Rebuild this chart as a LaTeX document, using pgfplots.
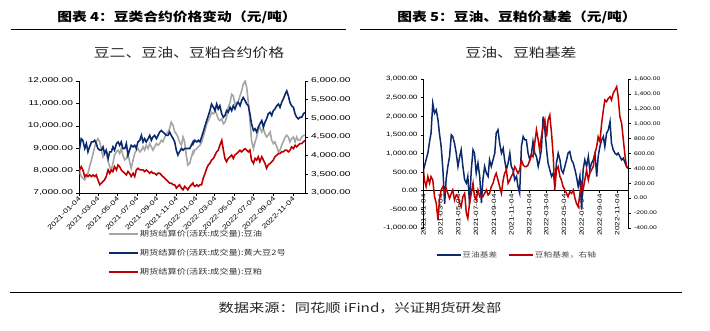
\documentclass[border=0pt]{standalone}
\usepackage{fontspec}
\usepackage{pgfplots}
\usepackage{pgfplotstable}
\pgfplotsset{compat=1.18}
\setmainfont{Liberation Sans}
\newfontfamily\tickA{Liberation Sans}[FakeStretch=1.45]
\newfontfamily\tickB{Liberation Sans}[FakeStretch=1.3]
\newfontfamily\cjk{Noto Sans CJK SC}[FakeStretch=1.25]
\newfontfamily\cjkt{Noto Sans CJK SC}[FakeStretch=1.2]
\definecolor{cgray}{HTML}{A6A6A6}
\definecolor{cnavy}{HTML}{0B2A6E}
\definecolor{cred}{HTML}{C00000}

\pgfplotstableread{
day oil bean meal
0 8000 4150 3529
2 7956 4191 3618
7 7735 4456 3706
12 7662 4412 3618
18 7588 4191 3441
23 7735 4323 3485
28 7882 4103 3441
33 8176 4235 3485
39 8471 4368 3441
44 8765 4368 3485
49 9059 4412 3441
54 9279 4323 3485
59 9426 4191 3353
65 9279 4147 3221
70 8912 4147 3265
75 8618 4235 3309
80 8765 4059 3353
85 8838 4147 3441
91 8397 3926 3618
96 8176 4103 3529
101 8029 4103 3618
106 8324 4235 3574
111 8691 4147 3706
117 8838 4323 3618
122 8912 4368 3750
127 8765 4279 3706
132 8985 4368 3618
137 8691 4191 3574
143 8471 4191 3529
148 8544 4323 3485
153 8765 4015 3574
158 8397 4147 3529
163 8103 4279 3441
169 8471 4235 3529
174 8765 4279 3441
179 8912 4191 3618
184 8985 4368 3662
190 8838 4412 3618
195 8912 4544 3618
200 9059 4368 3618
205 8912 4456 3574
210 9132 4368 3618
216 8985 4456 3574
221 9206 4544 3529
226 9059 4412 3574
231 8912 4500 3529
236 9059 4544 3529
242 9206 4456 3485
247 9132 4544 3529
252 9206 4632 3529
257 9353 4676 3485
262 9279 4632 3441
268 9500 4588 3397
273 9647 4544 3353
278 9721 4544 3309
283 9868 4632 3265
288 10162 4544 3265
294 10015 4456 3221
299 9721 4368 3221
304 9647 4147 3132
309 9500 4015 3176
314 9279 4103 3221
320 9132 4191 3132
325 9500 4147 3088
330 9279 4191 3176
335 8691 4191 3132
340 8250 4191 3088
346 8324 4191 3176
351 8618 4279 3221
356 8838 4368 3265
357 8765 4323 3221
362 8912 4412 3176
368 8985 4368 3221
373 9059 4412 3176
378 9132 4368 3221
383 9279 4500 3221
388 9500 4632 3397
394 9794 4809 3529
399 10088 4941 3662
404 10235 5074 3750
409 10382 5206 3794
414 10603 5382 3882
420 10529 5294 3926
425 10676 5206 4015
430 10529 5382 4103
435 10309 5250 4147
440 10235 5338 4279
446 10309 5118 4412
451 10088 5029 4147
456 10162 5074 3926
461 10382 5206 3838
466 10824 5162 3926
472 11044 5294 3971
477 11412 5206 4015
482 11338 5338 3926
487 10971 5250 4015
493 11044 5382 4059
498 11118 5426 4103
503 11338 5338 4147
508 11559 5471 4103
513 11853 5559 4147
519 12000 5471 4191
524 11706 5382 4147
529 11044 5338 4103
534 10235 5118 4147
539 9353 4853 3882
545 8985 4676 3794
550 9279 4721 3926
555 9500 4632 3882
560 9794 4765 3971
565 9941 4853 3838
571 9721 4941 3971
576 9868 4765 3882
581 9647 4897 3794
586 9500 4985 3662
591 9574 5118 3750
597 9721 5162 3794
602 9353 5074 3838
607 9206 5206 3882
612 9279 5250 3971
618 9059 5338 4015
623 8838 5382 4059
628 8912 5294 4059
633 9132 5426 4103
638 9279 5515 4103
644 9500 5647 4147
649 9574 5735 4147
654 9500 5603 4103
659 9279 5426 4147
664 9426 5338 4235
670 9500 5294 4191
675 9279 5118 4279
680 9500 5029 4235
685 9353 4985 4279
690 9353 5029 4324
696 9500 5029 4324
701 9574 5118 4368
706 9574 5162 4412
}\leftdata

\pgfplotstableread{
day soy meal
0 562 379
3 651 244
9 830 155
15 1009 289
21 1321 200
26 1544 289
32 2348 244
38 2080 21
44 2170 -69
50 1902 -293
55 1544 -24
61 1187 110
67 562 155
73 -350 88
78 294 133
84 651 65
90 919 -2
96 1500 65
101 1455 110
107 1277 -24
113 1009 43
119 651 21
125 919 -69
130 1098 -114
136 651 21
142 294 65
148 205 -203
153 384 -270
159 -350 -69
165 562 65
171 1098 200
176 1009 21
182 473 -24
188 741 110
194 384 21
200 -330 43
205 294 21
211 651 65
217 473 110
223 384 43
228 830 65
234 651 155
240 830 200
246 1009 289
251 1544 334
257 1634 244
263 1277 155
269 1009 65
275 1143 244
280 830 334
286 562 379
292 741 200
298 1009 244
303 651 289
309 562 334
315 294 423
321 384 379
326 116 334
332 -63 379
338 1187 513
344 1455 446
350 1366 423
355 1366 423
361 1009 446
367 830 513
373 1009 580
378 1321 558
384 1009 737
390 919 916
396 651 781
401 830 647
407 1098 826
413 1991 960
419 1634 1050
425 1098 826
430 741 1050
436 562 1117
442 384 871
448 473 558
453 205 110
459 741 379
465 1009 423
471 830 289
476 562 244
482 473 155
488 651 110
494 830 65
499 1009 21
505 1053 88
511 830 65
517 741 110
523 562 -2
528 384 -69
534 116 -114
540 384 65
546 -509 200
551 562 110
557 830 244
563 651 379
569 919 244
574 562 334
580 741 379
586 830 423
592 1009 602
598 384 692
603 919 826
609 1187 760
615 1366 1005
621 1455 1184
626 1187 1318
632 1544 1296
638 1634 1341
644 1857 1363
649 1277 1318
655 1098 1408
661 1009 1452
667 964 1497
672 1009 1363
678 919 1094
684 830 1005
690 875 781
696 741 558
701 651 423
706 607 401
}\rightdata

\pgfplotsset{
  numfmt/.style={
    /pgf/number format/fixed,
    /pgf/number format/fixed zerofill,
    /pgf/number format/precision=2,
    /pgf/number format/1000 sep={,},
    /pgf/number format/assume math mode=true},
  baseax/.style={
    anchor=south west, scale only axis, clip=true,
    xmin=0, xmax=706,
    tick align=outside, major tick length=2.5pt,
    tick style={black, line width=0.6pt},
    axis line style={black, line width=0.8pt},
    scaled y ticks=false},
  datex/.style={
    xtick={0,59,120,181,243,304,365,424,485,546,608,669},
    xticklabels={2021-01-04,2021-03-04,2021-05-04,2021-07-04,2021-09-04,2021-11-04,2022-01-04,2022-03-04,2022-05-04,2022-07-04,2022-09-04,2022-11-04}},
}

\begin{document}
\begin{tikzpicture}
\path (0pt,0pt) rectangle (710pt,330pt);
% headers
\node[font=\cjkt\bfseries\fontsize{12.3}{14}\selectfont] at (177pt,313pt) {图表 4：豆类合约价格变动（元/吨）};
\draw[line width=0.8pt] (11pt,301pt) -- (346pt,301pt);
\node[font=\cjk\fontsize{12.7}{14}\selectfont, text=black!85] at (189pt,277pt) {豆二、豆油、豆粕合约价格};
\node[font=\cjkt\bfseries\fontsize{12.3}{14}\selectfont] at (517pt,313pt) {图表 5：豆油、豆粕价基差（元/吨）};
\draw[line width=0.8pt] (360pt,301pt) -- (677pt,301pt);
\node[font=\cjk\fontsize{12.7}{14}\selectfont, text=black!85] at (521pt,277pt) {豆油、豆粕基差};
\draw[line width=0.8pt] (10pt,38pt) -- (682pt,38pt);
\node[font=\cjk\fontsize{12.2}{14}\selectfont, text=black!85] at (360pt,22pt) {数据来源：同花顺 iFind，兴证期货研发部};

% ---------- left chart ----------
\begin{axis}[baseax, datex, at={(79pt,137pt)}, width=226pt, height=112pt,
  ymin=7000, ymax=12000, ytick={7000,8000,...,12000},
  axis x line*=bottom, axis y line*=left,
  x tick label style={rotate=45, anchor=east, inner sep=1pt, yshift=-2pt, font=\tickB\fontsize{6.6}{7}\selectfont},
  y tick label style={font=\tickA\fontsize{7}{8}\selectfont, numfmt}]
\addplot[cgray, line width=1.6pt] table[x=day, y=oil] {\leftdata};
\end{axis}
\begin{axis}[baseax, at={(79pt,137pt)}, width=226pt, height=112pt,
  ymin=3000, ymax=6000, ytick={3000,3500,...,6000}, xtick=\empty,
  axis x line=none, axis y line*=right,
  y tick label style={font=\tickA\fontsize{7}{8}\selectfont, numfmt},
  legend cell align=left,
  legend style={at={(0.115,-0.536)}, anchor=west, draw=none, fill=none,
    font=\cjk\fontsize{7.4}{8}\selectfont, text=black!80, row sep=9.5pt,
    nodes={inner sep=1pt, text height=6pt, text depth=1.5pt}},
  legend image code/.code={\draw[#1] (0pt,0pt) -- (29pt,0pt);}]
\addlegendimage{cgray, line width=1.6pt}
\addlegendentry{期货结算价(活跃:成交量):豆油}
\addplot[cnavy, line width=1.6pt] table[x=day, y=bean] {\leftdata};
\addlegendentry{期货结算价(活跃:成交量):黄大豆2号}
\addplot[cred, line width=1.6pt] table[x=day, y=meal] {\leftdata};
\addlegendentry{期货结算价(活跃:成交量):豆粕}
\end{axis}

% ---------- right chart ----------
\begin{axis}[baseax, datex, at={(423.5pt,102pt)}, width=204.5pt, height=149pt,
  ymin=-1000, ymax=3000, ytick={-1000,-500,...,3000},
  axis x line*=middle, axis y line*=left, hide obscured x ticks=false,
  x tick label style={rotate=90, anchor=east, inner sep=1pt, font=\tickB\fontsize{6.2}{7}\selectfont},
  y tick label style={font=\tickB\fontsize{6.2}{7}\selectfont, numfmt}]
\addplot[cnavy, line width=1.5pt] table[x=day, y=soy] {\rightdata};
\end{axis}
\begin{axis}[baseax, at={(423.5pt,102pt)}, width=204.5pt, height=149pt,
  ymin=-400, ymax=1600, ytick={-400,-200,...,1600}, xtick=\empty,
  axis x line=none, axis y line*=right,
  y tick label style={font=\tickB\fontsize{5.2}{6}\selectfont, numfmt},
  legend columns=2,
  legend style={at={(0.045,-0.181)}, anchor=west, draw=none, fill=none,
    font=\cjk\fontsize{7}{8}\selectfont, text=black!70,
    nodes={inner sep=1pt},
    /tikz/every even column/.append style={column sep=10pt}},
  legend image code/.code={\draw[#1] (0pt,0pt) -- (24pt,0pt);}]
\addlegendimage{cnavy, line width=1.5pt}
\addlegendentry{豆油基差}
\addplot[cred, line width=1.5pt] table[x=day, y=meal] {\rightdata};
\addlegendentry{豆粕基差，右轴}
\end{axis}
\end{tikzpicture}
\end{document}
